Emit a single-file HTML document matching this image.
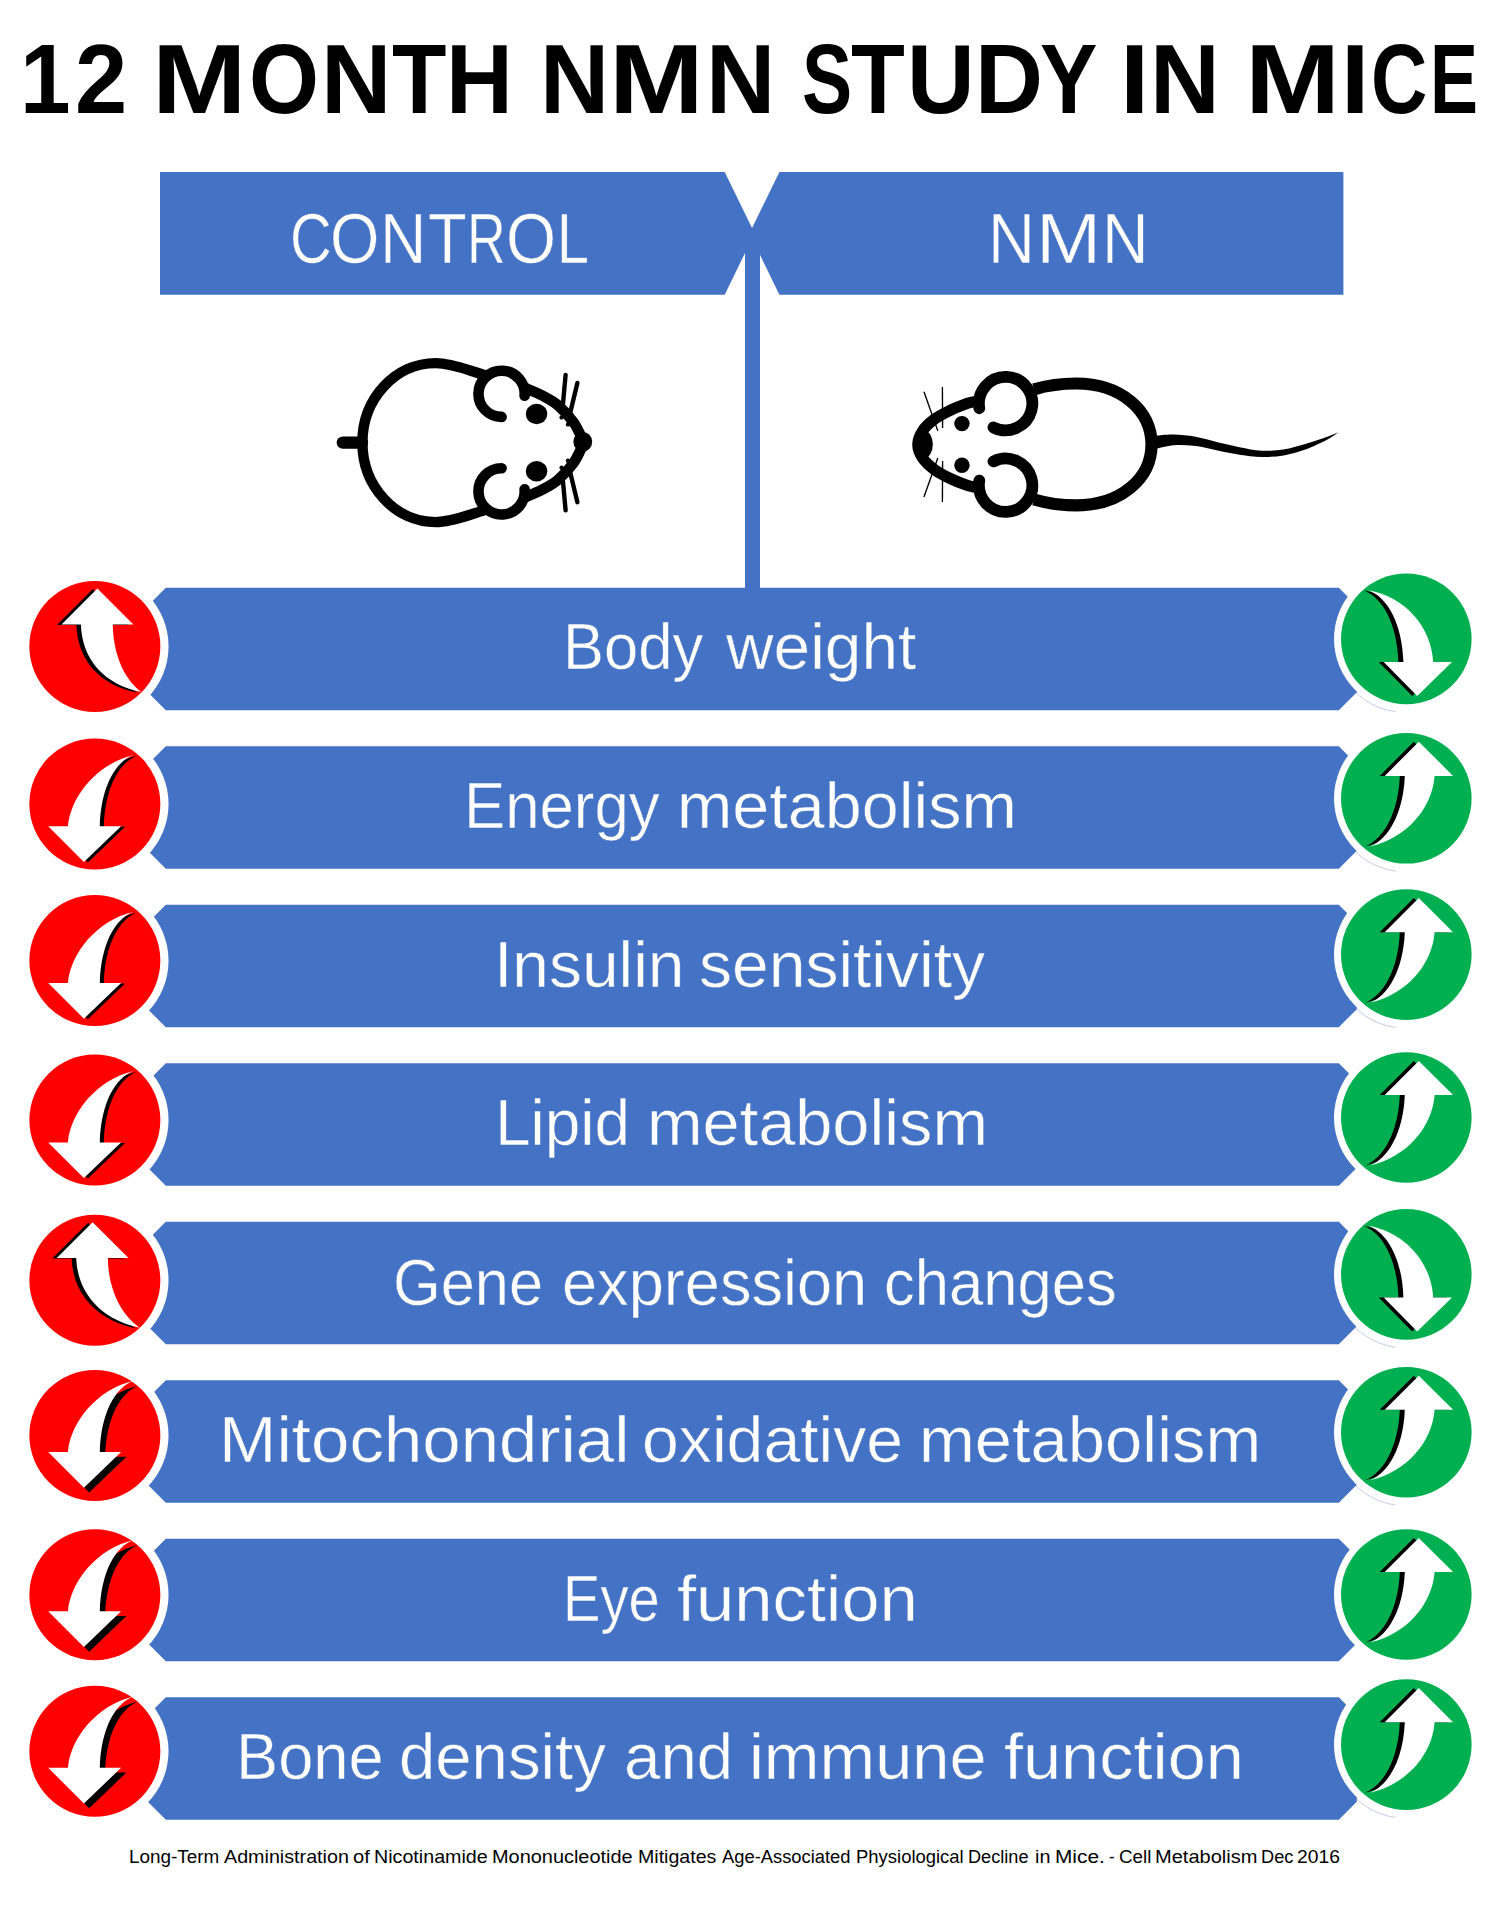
<!DOCTYPE html>
<html lang="en"><head><meta charset="utf-8"><title>12 MONTH NMN STUDY IN MICE</title>
<style>
html,body{margin:0;padding:0;background:#fff}
#page{position:relative;width:1503px;height:1907px;overflow:hidden;background:#fff;font-family:"Liberation Sans",sans-serif}
#page svg{position:absolute;left:0;top:0}
.t{position:absolute;left:0;width:1503px;height:0;margin:0;white-space:nowrap;font-size:0;line-height:0}
.t p{margin:0;padding:0;height:0;line-height:1;white-space:nowrap;word-spacing:-0.278em}
.thin span{-webkit-text-stroke:0.5px #4472C4}
.t span{display:inline-block;position:relative;width:0;word-spacing:normal;line-height:1;transform-origin:0 0;white-space:pre;vertical-align:baseline}
</style></head><body>
<div id="page">
<svg width="1503" height="1907" viewBox="0 0 1503 1907">
<g id="header">
<polygon points="160,172 724.7,172 754.6,233.35 724.7,294.7 160,294.7" fill="#4472C4"/>
<polygon points="1343.4,172 779.4,172 749.5,233.35 779.4,294.7 1343.4,294.7" fill="#4472C4"/>
<rect x="745" y="230" width="15" height="360" fill="#4472C4"/>
</g>
<g id="mouse-control">
<path d="M 484.3,374.9 C 468,370.2 452,363.1 435.8,363.1 C 395.26,363.1 362.4,398.69 362.4,442.6 C 362.4,486.51 395.26,522.10 435.8,522.10 C 452,522.10 468,515.00 484.3,510.30" fill="none" stroke="#000" stroke-width="10.4" stroke-linecap="round"/>
<path d="M 342.8,442.6 L 362,442.6" stroke="#000" stroke-width="12.3" stroke-linecap="round" fill="none"/>
<path d="M 501.60,416.90 A 23.1,23.1 0 1 1 524.61,395.81" fill="none" stroke="#000" stroke-width="10.6" stroke-linecap="round"/>
<path d="M 501.60,468.30 A 23.1,23.1 0 1 0 524.61,489.39" fill="none" stroke="#000" stroke-width="10.6" stroke-linecap="round"/>
<path d="M 524.50,387.60 C 527.42,388.90 536.50,392.52 542.00,395.40 C 547.50,398.28 552.22,400.38 557.50,404.90 C 562.78,409.42 569.37,416.38 573.70,422.50 C 578.03,428.62 581.87,438.42 583.50,441.60" fill="none" stroke="#000" stroke-width="10.6" stroke-linecap="round"/>
<ellipse cx="536.6" cy="414.00" rx="10.7" ry="10.2" fill="#000"/>
<line x1="562.9" y1="404.50" x2="565.6" y2="374.90" stroke="#000" stroke-width="4.4" stroke-linecap="round"/>
<line x1="570.4" y1="412.00" x2="577.4" y2="383.00" stroke="#000" stroke-width="4.4" stroke-linecap="round"/>
<circle cx="561.6" cy="417.40" r="2.2" fill="#000"/>
<circle cx="568" cy="424.40" r="2.2" fill="#000"/>
<path d="M 524.50,497.60 C 527.42,496.30 536.50,492.68 542.00,489.80 C 547.50,486.92 552.22,484.82 557.50,480.30 C 562.78,475.78 569.37,468.82 573.70,462.70 C 578.03,456.58 581.87,446.78 583.50,443.60" fill="none" stroke="#000" stroke-width="10.6" stroke-linecap="round"/>
<ellipse cx="536.6" cy="471.20" rx="10.7" ry="10.2" fill="#000"/>
<line x1="562.9" y1="480.70" x2="565.6" y2="510.30" stroke="#000" stroke-width="4.4" stroke-linecap="round"/>
<line x1="570.4" y1="473.20" x2="577.4" y2="502.20" stroke="#000" stroke-width="4.4" stroke-linecap="round"/>
<circle cx="561.6" cy="467.80" r="2.2" fill="#000"/>
<circle cx="568" cy="460.80" r="2.2" fill="#000"/>
<ellipse cx="582.8" cy="441.8" rx="9.4" ry="9.9" fill="#000"/>
</g>
<g id="mouse-nmn">
<path d="M 1034,389.3 C 1047,385.5 1061,383.5 1076,383.5 C 1121.30,383.5 1151.5,410.76 1151.5,444.4 C 1151.5,478.04 1121.30,505.30 1076,505.30 C 1061,505.30 1047,503.30 1034,499.50" fill="none" stroke="#000" stroke-width="12.2"/>
<path d="M 1156.00,435.60 C 1158.95,435.42 1167.10,434.32 1173.70,434.50 C 1180.30,434.68 1188.28,435.42 1195.60,436.70 C 1202.92,437.98 1210.27,440.45 1217.60,442.20 C 1224.93,443.95 1232.28,445.78 1239.60,447.20 C 1246.92,448.62 1254.18,450.33 1261.50,450.70 C 1268.82,451.07 1276.18,450.53 1283.50,449.40 C 1290.82,448.27 1298.08,446.02 1305.40,443.90 C 1312.72,441.78 1321.90,438.63 1327.40,436.70 C 1332.90,434.77 1336.57,433.03 1338.40,432.30 L 1338.40,432.30 C 1336.57,433.52 1332.90,436.72 1327.40,439.60 C 1321.90,442.48 1312.72,446.97 1305.40,449.60 C 1298.08,452.23 1290.82,454.17 1283.50,455.40 C 1276.18,456.63 1268.82,457.12 1261.50,457.00 C 1254.18,456.88 1246.92,455.80 1239.60,454.70 C 1232.28,453.60 1224.93,451.85 1217.60,450.40 C 1210.27,448.95 1202.92,446.87 1195.60,446.00 C 1188.28,445.13 1180.30,444.73 1173.70,445.20 C 1167.10,445.67 1158.95,448.20 1156.00,448.80 Z" fill="#000"/>
<path d="M 993.48,427.39 A 26.7,26.7 0 1 0 979.31,408.24" fill="none" stroke="#000" stroke-width="11.8" stroke-linecap="round"/>
<path d="M 993.48,461.41 A 26.7,26.7 0 1 1 979.31,480.56" fill="none" stroke="#000" stroke-width="11.8" stroke-linecap="round"/>
<path d="M 973.50,401.80 C 972.07,402.20 968.82,402.77 964.90,404.20 C 960.98,405.63 955.05,407.92 950.00,410.40 C 944.95,412.88 939.18,415.67 934.60,419.10 C 930.02,422.53 925.30,426.78 922.50,431.00 C 919.70,435.22 917.80,439.93 917.80,444.40 C 917.80,448.87 919.70,453.58 922.50,457.80 C 925.30,462.02 930.02,466.27 934.60,469.70 C 939.18,473.13 944.95,475.92 950.00,478.40 C 955.05,480.88 960.98,483.17 964.90,484.60 C 968.82,486.03 972.07,486.60 973.50,487.00" fill="none" stroke="#000" stroke-width="11.2" stroke-linecap="round"/>
<ellipse cx="924" cy="444.4" rx="8.8" ry="14" fill="#000"/>
<circle cx="961.95" cy="423.60" r="7.7" fill="#000"/>
<line x1="937.8" y1="430.80" x2="923.95" y2="391.70" stroke="#000" stroke-width="1.35"/>
<line x1="942.6" y1="427.90" x2="942.4" y2="386.90" stroke="#000" stroke-width="1.35"/>
<circle cx="961.95" cy="465.20" r="7.7" fill="#000"/>
<line x1="937.8" y1="458.00" x2="923.95" y2="497.10" stroke="#000" stroke-width="1.35"/>
<line x1="942.6" y1="460.90" x2="942.4" y2="501.90" stroke="#000" stroke-width="1.35"/>
</g>
<g id="ring-outline" fill="none" stroke="#c4ccec" stroke-width="1">
<path d="M 1395.68,711.79 A 72.7,72.7 0 0 1 1342.84,676.15"/>
<path d="M 1395.68,871.19 A 72.7,72.7 0 0 1 1342.84,835.55"/>
<path d="M 1395.68,1027.49 A 72.7,72.7 0 0 1 1342.84,991.85"/>
<path d="M 1395.68,1347.29 A 72.7,72.7 0 0 1 1342.84,1311.65"/>
<path d="M 1395.68,1505.09 A 72.7,72.7 0 0 1 1342.84,1469.45"/>
<path d="M 1395.68,1817.49 A 72.7,72.7 0 0 1 1342.84,1781.85"/>
</g>
<g id="bars">
<polygon points="165.8,587.80 1338.8,587.80 1356.8,605.80 1356.8,692.20 1338.8,710.20 165.8,710.20 147.8,692.20 147.8,605.80" fill="#4472C4"/>
<polygon points="165.8,746.31 1338.8,746.31 1356.8,764.31 1356.8,850.71 1338.8,868.71 165.8,868.71 147.8,850.71 147.8,764.31" fill="#4472C4"/>
<polygon points="165.8,904.82 1338.8,904.82 1356.8,922.82 1356.8,1009.22 1338.8,1027.22 165.8,1027.22 147.8,1009.22 147.8,922.82" fill="#4472C4"/>
<polygon points="165.8,1063.33 1338.8,1063.33 1356.8,1081.33 1356.8,1167.73 1338.8,1185.73 165.8,1185.73 147.8,1167.73 147.8,1081.33" fill="#4472C4"/>
<polygon points="165.8,1221.84 1338.8,1221.84 1356.8,1239.84 1356.8,1326.24 1338.8,1344.24 165.8,1344.24 147.8,1326.24 147.8,1239.84" fill="#4472C4"/>
<polygon points="165.8,1380.35 1338.8,1380.35 1356.8,1398.35 1356.8,1484.75 1338.8,1502.75 165.8,1502.75 147.8,1484.75 147.8,1398.35" fill="#4472C4"/>
<polygon points="165.8,1538.86 1338.8,1538.86 1356.8,1556.86 1356.8,1643.26 1338.8,1661.26 165.8,1661.26 147.8,1643.26 147.8,1556.86" fill="#4472C4"/>
<polygon points="165.8,1697.37 1338.8,1697.37 1356.8,1715.37 1356.8,1801.77 1338.8,1819.77 165.8,1819.77 147.8,1801.77 147.8,1715.37" fill="#4472C4"/>
</g>
<g id="circles">
<g transform="translate(94.85,646.4)"><circle r="73.7" fill="#fff"/><circle r="65.5" fill="#FF0000"/><path d="M 2.55,-57.8 L 38.55,-21.9 L 17.95,-21.9 C 18.15,3.6 27.15,31.6 46.55,45.5 C 10.15,38.6 -12.85,13.6 -13.95,-21.9 L -33.35,-21.9 Z" fill="#000" transform="translate(-4.50,0.50)"/><path d="M 2.55,-57.8 L 38.55,-21.9 L 17.95,-21.9 C 18.15,3.6 27.15,31.6 46.55,45.5 C 10.15,38.6 -12.85,13.6 -13.95,-21.9 L -33.35,-21.9 Z" fill="#fff" transform="translate(0,0)"/></g>
<g transform="translate(1406.3,638.9)"><circle r="72.3" fill="#fff"/><circle r="65.3" fill="#00B050"/><path d="M 10.9,57.2 L 45.7,23 L 26.9,23 C 25,-12 -1,-42 -38,-48.6 C -19,-42 -4,-15 -2.9,23 L -22.6,23 Z" fill="#000" transform="translate(-5.00,0.00)"/><path d="M 10.9,57.2 L 45.7,23 L 26.9,23 C 25,-12 -1,-42 -38,-48.6 C -19,-42 -4,-15 -2.9,23 L -22.6,23 Z" fill="#fff" transform="translate(0,0)"/></g>
<g transform="translate(94.85,803.9)"><circle r="73.7" fill="#fff"/><circle r="65.5" fill="#FF0000"/><path d="M -10.95,58.1 L -46.65,22.4 L -26.95,22.4 C -24,-8 2,-40 38.65,-48.9 C 20,-42 6,-16 4.95,22.4 L 26.25,22.4 Z" fill="#000" transform="translate(4.00,0.50)"/><path d="M -10.95,58.1 L -46.65,22.4 L -26.95,22.4 C -24,-8 2,-40 38.65,-48.9 C 20,-42 6,-16 4.95,22.4 L 26.25,22.4 Z" fill="#fff" transform="translate(0,0)"/></g>
<g transform="translate(1406.3,798.3)"><circle r="72.3" fill="#fff"/><circle r="65.3" fill="#00B050"/><path d="M 12.5,-56.5 L 46.8,-22.4 L 28.3,-22.4 C 26,10 0,40 -36.3,48.1 C -18,41 -3,15 -1.5,-22.4 L -21.6,-22.4 Z" fill="#000" transform="translate(-5.00,0.00)"/><path d="M 12.5,-56.5 L 46.8,-22.4 L 28.3,-22.4 C 26,10 0,40 -36.3,48.1 C -18,41 -3,15 -1.5,-22.4 L -21.6,-22.4 Z" fill="#fff" transform="translate(0,0)"/></g>
<g transform="translate(94.85,960.6)"><circle r="73.7" fill="#fff"/><circle r="65.5" fill="#FF0000"/><path d="M -10.95,58.1 L -46.65,22.4 L -26.95,22.4 C -24,-8 2,-40 38.65,-48.9 C 20,-42 6,-16 4.95,22.4 L 26.25,22.4 Z" fill="#000" transform="translate(4.00,0.50)"/><path d="M -10.95,58.1 L -46.65,22.4 L -26.95,22.4 C -24,-8 2,-40 38.65,-48.9 C 20,-42 6,-16 4.95,22.4 L 26.25,22.4 Z" fill="#fff" transform="translate(0,0)"/></g>
<g transform="translate(1406.3,954.6)"><circle r="72.3" fill="#fff"/><circle r="65.3" fill="#00B050"/><path d="M 12.5,-56.5 L 46.8,-22.4 L 28.3,-22.4 C 26,10 0,40 -36.3,48.1 C -18,41 -3,15 -1.5,-22.4 L -21.6,-22.4 Z" fill="#000" transform="translate(-5.00,0.00)"/><path d="M 12.5,-56.5 L 46.8,-22.4 L 28.3,-22.4 C 26,10 0,40 -36.3,48.1 C -18,41 -3,15 -1.5,-22.4 L -21.6,-22.4 Z" fill="#fff" transform="translate(0,0)"/></g>
<g transform="translate(94.85,1120)"><circle r="73.7" fill="#fff"/><circle r="65.5" fill="#FF0000"/><path d="M -10.95,58.1 L -46.65,22.4 L -26.95,22.4 C -24,-8 2,-40 38.65,-48.9 C 20,-42 6,-16 4.95,22.4 L 26.25,22.4 Z" fill="#000" transform="translate(4.00,0.50)"/><path d="M -10.95,58.1 L -46.65,22.4 L -26.95,22.4 C -24,-8 2,-40 38.65,-48.9 C 20,-42 6,-16 4.95,22.4 L 26.25,22.4 Z" fill="#fff" transform="translate(0,0)"/></g>
<g transform="translate(1406.3,1117.5)"><circle r="72.3" fill="#fff"/><circle r="65.3" fill="#00B050"/><path d="M 12.5,-56.5 L 46.8,-22.4 L 28.3,-22.4 C 26,10 0,40 -36.3,48.1 C -18,41 -3,15 -1.5,-22.4 L -21.6,-22.4 Z" fill="#000" transform="translate(-5.00,0.00)"/><path d="M 12.5,-56.5 L 46.8,-22.4 L 28.3,-22.4 C 26,10 0,40 -36.3,48.1 C -18,41 -3,15 -1.5,-22.4 L -21.6,-22.4 Z" fill="#fff" transform="translate(0,0)"/></g>
<g transform="translate(94.85,1280.3)"><circle r="73.7" fill="#fff"/><circle r="65.5" fill="#FF0000"/><path d="M -2.25,-58 L 33.7,-22.4 L 12.97,-22.4 C 13.2,5 24,33 44.9,47.35 C 8,40 -17.5,14 -18.65,-22.4 L -38.1,-22.4 Z" fill="#000" transform="translate(-4.50,0.50)"/><path d="M -2.25,-58 L 33.7,-22.4 L 12.97,-22.4 C 13.2,5 24,33 44.9,47.35 C 8,40 -17.5,14 -18.65,-22.4 L -38.1,-22.4 Z" fill="#fff" transform="translate(0,0)"/></g>
<g transform="translate(1406.3,1274.4)"><circle r="72.3" fill="#fff"/><circle r="65.3" fill="#00B050"/><path d="M 10.9,57.2 L 45.7,23 L 26.9,23 C 25,-12 -1,-42 -38,-48.6 C -19,-42 -4,-15 -2.9,23 L -22.6,23 Z" fill="#000" transform="translate(-5.00,0.00)"/><path d="M 10.9,57.2 L 45.7,23 L 26.9,23 C 25,-12 -1,-42 -38,-48.6 C -19,-42 -4,-15 -2.9,23 L -22.6,23 Z" fill="#fff" transform="translate(0,0)"/></g>
<g transform="translate(94.85,1435.4)"><circle r="73.7" fill="#fff"/><circle r="65.5" fill="#FF0000"/><path d="M -10.95,58.1 L -46.65,22.4 L -26.95,22.4 C -24,-8 2,-40 38.65,-48.9 C 20,-42 6,-16 4.95,22.4 L 26.25,22.4 Z" fill="#000" transform="translate(5.30,-1.10)"/><path d="M -10.95,58.1 L -46.65,22.4 L -26.95,22.4 C -24,-8 2,-40 38.65,-48.9 C 20,-42 6,-16 4.95,22.4 L 26.25,22.4 Z" fill="#fff" transform="translate(0,-5.8)"/></g>
<g transform="translate(1406.3,1432.2)"><circle r="72.3" fill="#fff"/><circle r="65.3" fill="#00B050"/><path d="M 12.5,-56.5 L 46.8,-22.4 L 28.3,-22.4 C 26,10 0,40 -36.3,48.1 C -18,41 -3,15 -1.5,-22.4 L -21.6,-22.4 Z" fill="#000" transform="translate(-5.00,0.00)"/><path d="M 12.5,-56.5 L 46.8,-22.4 L 28.3,-22.4 C 26,10 0,40 -36.3,48.1 C -18,41 -3,15 -1.5,-22.4 L -21.6,-22.4 Z" fill="#fff" transform="translate(0,0)"/></g>
<g transform="translate(94.85,1594.7)"><circle r="73.7" fill="#fff"/><circle r="65.5" fill="#FF0000"/><path d="M -10.95,58.1 L -46.65,22.4 L -26.95,22.4 C -24,-8 2,-40 38.65,-48.9 C 20,-42 6,-16 4.95,22.4 L 26.25,22.4 Z" fill="#000" transform="translate(5.30,-1.10)"/><path d="M -10.95,58.1 L -46.65,22.4 L -26.95,22.4 C -24,-8 2,-40 38.65,-48.9 C 20,-42 6,-16 4.95,22.4 L 26.25,22.4 Z" fill="#fff" transform="translate(0,-5.8)"/></g>
<g transform="translate(1406.3,1594.5)"><circle r="72.3" fill="#fff"/><circle r="65.3" fill="#00B050"/><path d="M 12.5,-56.5 L 46.8,-22.4 L 28.3,-22.4 C 26,10 0,40 -36.3,48.1 C -18,41 -3,15 -1.5,-22.4 L -21.6,-22.4 Z" fill="#000" transform="translate(-5.00,0.00)"/><path d="M 12.5,-56.5 L 46.8,-22.4 L 28.3,-22.4 C 26,10 0,40 -36.3,48.1 C -18,41 -3,15 -1.5,-22.4 L -21.6,-22.4 Z" fill="#fff" transform="translate(0,0)"/></g>
<g transform="translate(94.85,1751.2)"><circle r="73.7" fill="#fff"/><circle r="65.5" fill="#FF0000"/><path d="M -10.95,58.1 L -46.65,22.4 L -26.95,22.4 C -24,-8 2,-40 38.65,-48.9 C 20,-42 6,-16 4.95,22.4 L 26.25,22.4 Z" fill="#000" transform="translate(5.30,-1.10)"/><path d="M -10.95,58.1 L -46.65,22.4 L -26.95,22.4 C -24,-8 2,-40 38.65,-48.9 C 20,-42 6,-16 4.95,22.4 L 26.25,22.4 Z" fill="#fff" transform="translate(0,-5.8)"/></g>
<g transform="translate(1406.3,1744.6)"><circle r="72.3" fill="#fff"/><circle r="65.3" fill="#00B050"/><path d="M 12.5,-56.5 L 46.8,-22.4 L 28.3,-22.4 C 26,10 0,40 -36.3,48.1 C -18,41 -3,15 -1.5,-22.4 L -21.6,-22.4 Z" fill="#000" transform="translate(-5.00,0.00)"/><path d="M 12.5,-56.5 L 46.8,-22.4 L 28.3,-22.4 C 26,10 0,40 -36.3,48.1 C -18,41 -3,15 -1.5,-22.4 L -21.6,-22.4 Z" fill="#fff" transform="translate(0,0)"/></g>
</g>
</svg>
<div class="t" id="title" aria-label="12 MONTH NMN STUDY IN MICE" style="top:30.13px;color:#000;font-weight:bold"><p style="font-size:98.84px"><span style="left:20.38px;transform:scaleX(0.9196)">1</span><span style="left:75.35px;transform:scaleX(0.9500)">2</span> <span style="left:152.27px;transform:scaleX(1.1478)">M</span><span style="left:248.56px;transform:scaleX(0.9101)">O</span><span style="left:320.80px;transform:scaleX(0.9862)">N</span><span style="left:391.60px;transform:scaleX(0.9017)">T</span><span style="left:446.25px;transform:scaleX(0.9362)">H</span> <span style="left:539.62px;transform:scaleX(0.9690)">N</span><span style="left:609.44px;transform:scaleX(1.1507)">M</span><span style="left:705.71px;transform:scaleX(0.9707)">N</span> <span style="left:802.22px;transform:scaleX(0.7610)">S</span><span style="left:850.81px;transform:scaleX(0.8914)">T</span><span style="left:906.62px;transform:scaleX(0.9475)">U</span><span style="left:975.44px;transform:scaleX(0.9517)">D</span><span style="left:1040.26px;transform:scaleX(0.8710)">Y</span> <span style="left:1120.35px;transform:scaleX(1.0643)">I</span><span style="left:1150.26px;transform:scaleX(0.9776)">N</span> <span style="left:1245.21px;transform:scaleX(1.1551)">M</span><span style="left:1341.30px;transform:scaleX(1.0286)">I</span><span style="left:1370.94px;transform:scaleX(0.7891)">C</span><span style="left:1429.71px;transform:scaleX(0.7273)">E</span></p></div>
<div class="t thin" id="hc" aria-label="CONTROL" style="top:205.01px;color:#fff;font-weight:normal"><p style="font-size:69.81px"><span style="left:290.49px;transform:scaleX(0.8279)">C</span><span style="left:330.47px;transform:scaleX(0.9104)">O</span><span style="left:380.29px;transform:scaleX(0.9179)">N</span><span style="left:427.69px;transform:scaleX(0.9051)">T</span><span style="left:466.99px;transform:scaleX(0.7683)">R</span><span style="left:506.13px;transform:scaleX(0.9229)">O</span><span style="left:556.56px;transform:scaleX(0.8233)">L</span></p></div>
<div class="t thin" id="hn" aria-label="NMN" style="top:205.01px;color:#fff;font-weight:normal"><p style="font-size:69.81px"><span style="left:988.22px;transform:scaleX(0.9308)">N</span><span style="left:1036.37px;transform:scaleX(1.1217)">M</span><span style="left:1101.68px;transform:scaleX(0.9205)">N</span></p></div>
<div class="t thin" id="r1" style="top:613.51px;color:#fff;font-weight:normal"><p style="font-size:65.67px"><span style="left:562.72px;transform:scaleX(0.9368)">Body</span> <span style="left:726.30px;transform:scaleX(1.0026)">weight</span></p></div>
<div class="t thin" id="r2" style="top:772.61px;color:#fff;font-weight:normal"><p style="font-size:65.67px"><span style="left:464.00px;transform:scaleX(0.9404)">Energy</span> <span style="left:676.65px;transform:scaleX(1.0122)">metabolism</span></p></div>
<div class="t thin" id="r3" style="top:931.61px;color:#fff;font-weight:normal"><p style="font-size:65.67px"><span style="left:493.88px;transform:scaleX(1.0034)">Insulin</span> <span style="left:699.49px;transform:scaleX(1.0050)">sensitivity</span></p></div>
<div class="t thin" id="r4" style="top:1089.51px;color:#fff;font-weight:normal"><p style="font-size:65.67px"><span style="left:495.03px;transform:scaleX(0.9744)">Lipid</span> <span style="left:646.74px;transform:scaleX(1.0156)">metabolism</span></p></div>
<div class="t thin" id="r5" style="top:1249.61px;color:#fff;font-weight:normal"><p style="font-size:65.67px"><span style="left:393.40px;transform:scaleX(0.9342)">Gene</span> <span style="left:562.02px;transform:scaleX(0.9613)">expression</span> <span style="left:884.09px;transform:scaleX(0.9374)">changes</span></p></div>
<div class="t thin" id="r6" style="top:1406.61px;color:#fff;font-weight:normal"><p style="font-size:65.67px"><span style="left:218.94px;transform:scaleX(1.0512)">Mitochondrial</span> <span style="left:642.18px;transform:scaleX(1.0079)">oxidative</span> <span style="left:918.52px;transform:scaleX(1.0196)">metabolism</span></p></div>
<div class="t thin" id="r7" style="top:1565.51px;color:#fff;font-weight:normal"><p style="font-size:65.67px"><span style="left:563.13px;transform:scaleX(0.8543)">Eye</span> <span style="left:677.35px;transform:scaleX(1.0467)">function</span></p></div>
<div class="t thin" id="r8" style="top:1723.51px;color:#fff;font-weight:normal"><p style="font-size:65.67px"><span style="left:235.68px;transform:scaleX(0.9634)">Bone</span> <span style="left:398.82px;transform:scaleX(0.9941)">density</span> <span style="left:623.91px;transform:scaleX(0.9971)">and</span> <span style="left:748.73px;transform:scaleX(1.0176)">immune</span> <span style="left:1003.96px;transform:scaleX(1.0431)">function</span></p></div>
<div class="t" id="foot" style="top:1847.93px;color:#000;font-weight:normal"><p style="font-size:18.87px"><span style="left:128.60px;transform:scaleX(1.0023)">Long-Term</span> <span style="left:224.20px;transform:scaleX(1.0449)">Administration</span> <span style="left:353.43px;transform:scaleX(1.0667)">of</span> <span style="left:374.41px;transform:scaleX(1.0434)">Nicotinamide</span> <span style="left:492.49px;transform:scaleX(1.0562)">Mononucleotide</span> <span style="left:637.72px;transform:scaleX(1.0384)">Mitigates</span> <span style="left:722.40px;transform:scaleX(0.9725)">Age-Associated</span> <span style="left:855.54px;transform:scaleX(0.9785)">Physiological</span> <span style="left:968.18px;transform:scaleX(0.9617)">Decline</span> <span style="left:1034.65px;transform:scaleX(1.0462)">in</span> <span style="left:1055.39px;transform:scaleX(1.1049)">Mice.</span> <span style="left:1109.02px;transform:scaleX(0.8800)">-</span> <span style="left:1118.90px;transform:scaleX(0.9967)">Cell</span> <span style="left:1154.68px;transform:scaleX(1.0624)">Metabolism</span> <span style="left:1260.67px;transform:scaleX(0.9645)">Dec</span> <span style="left:1297.48px;transform:scaleX(1.0225)">2016</span></p></div>
</div>
</body></html>
